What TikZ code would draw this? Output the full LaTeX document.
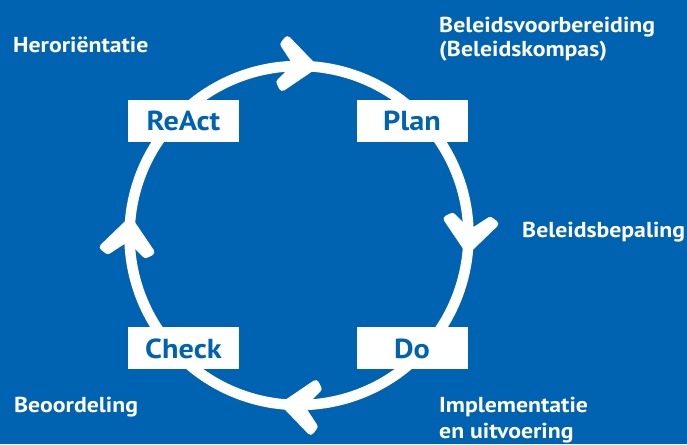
\documentclass[tikz,border=0pt]{standalone}
\usepackage{fontspec}
\setmainfont{PT Sans}[FakeStretch=1.1]
\usetikzlibrary{calc}
\definecolor{pdcablue}{RGB}{0,99,178}
\begin{document}
\begin{tikzpicture}[x=1pt,y=1pt,
  lbl/.style={anchor=base west, inner sep=0pt, text=white, font=\bfseries\fontsize{21.6}{24}\selectfont},
  phase/.style={rectangle, fill=white, text=pdcablue, minimum width=111pt, minimum height=42pt,
    inner sep=0pt, text height=19.5pt, text depth=0pt, font=\bfseries\fontsize{27.5}{30}\selectfont},
  ring/.style={draw=white, line width=10.5pt},
  chev/.pic={\filldraw[white, line width=7pt, line join=round]
    (-3.5,0) -- (-32,24) -- (-35,19) -- (-22,3) -- (-22,-3) -- (-35,-19) -- (-32,-24) -- cycle;}
]
\fill[pdcablue] (0,0) rectangle (687,444);
\useasboundingbox (0,0) rectangle (687,444);
\coordinate (c) at (299,208.5);
\draw[ring] (c) circle[radius=169.5];
\foreach \a in {84,-6,264,174}{
  \pic[rotate=\a-90] at ($(c)+(\a:169.5)$) {chev};
}
\node[phase] (react) at (183.5,323) {ReAct};
\node[phase] (plan)  at (412,323) {Plan};
\node[phase] (check) at (183.5,95.5) {Check};
\node[phase] (do)    at (412,95.5) {Do};
\node[lbl] (heror) at (13,391) {Heroriëntatie};
\node[lbl] (bv1) at (439,411) {Beleidsvoorbereiding};
\node[lbl] (bv2) at (439,387) {(Beleidskompas)};
\node[lbl] (bb) at (522,206) {Beleidsbepaling};
\node[lbl] (beo) at (14,31) {Beoordeling};
\node[lbl] (imp1) at (439,32) {Implementatie};
\node[lbl] (imp2) at (439,6) {en uitvoering};
\end{tikzpicture}
\end{document}
